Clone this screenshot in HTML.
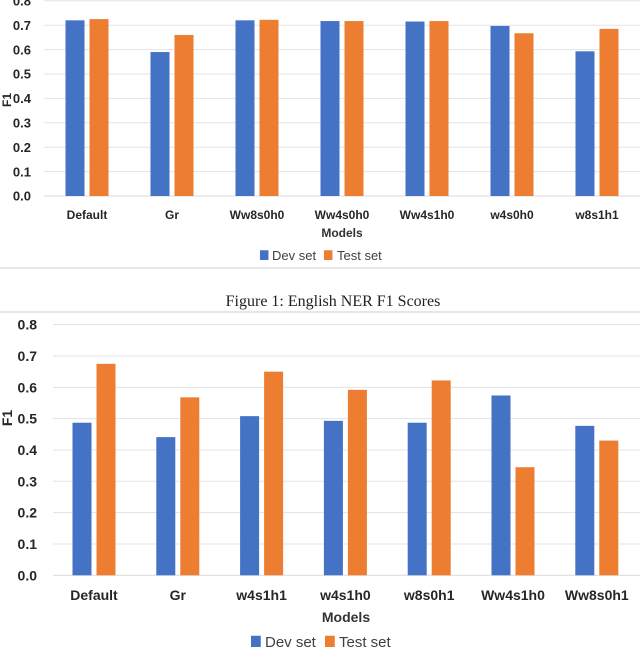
<!DOCTYPE html>
<html><head><meta charset="utf-8"><style>
body{margin:0;width:640px;height:648px;background:#fff;overflow:hidden}
svg{display:block}
text{font-family:"Liberation Sans",sans-serif}
</style></head><body>
<svg id="s" width="640" height="648">
<line x1="0" y1="268" x2="640" y2="268" stroke="#e6e6e6" stroke-width="2"/>
<text x="333" y="306" text-anchor="middle" style="font-family:'Liberation Serif',serif;font-size:16px" fill="#222">Figure 1: English NER F1 Scores</text>
<line x1="0" y1="312" x2="640" y2="312" stroke="#e6e6e6" stroke-width="2"/>
</svg>
<script>
const cats1=["Default","Gr","Ww8s0h0","Ww4s0h0","Ww4s1h0","w4s0h0","w8s1h1"];
const dev1=[0.72,0.59,0.72,0.717,0.715,0.697,0.593];
const test1=[0.725,0.66,0.722,0.717,0.717,0.667,0.685];
const cats2=["Default","Gr","w4s1h1","w4s1h0","w8s0h1","Ww4s1h0","Ww8s0h1"];
const dev2=[0.487,0.441,0.508,0.493,0.487,0.574,0.477];
const test2=[0.675,0.568,0.65,0.592,0.622,0.345,0.43];
const ticks=["0.0","0.1","0.2","0.3","0.4","0.5","0.6","0.7","0.8"];
const NS="http://www.w3.org/2000/svg";
const svg=document.getElementById('s');
function mk(tag,attrs,txt){const e=document.createElementNS(NS,tag);for(const k in attrs)e.setAttribute(k,attrs[k]);if(txt!==undefined)e.textContent=txt;svg.appendChild(e);return e;}
function chart(id,cats,dev,test,o){
  const y=v=>o.y0-v*10*o.step;
  const x=i=>o.x0+i*o.dx;
  ticks.forEach((t,i)=>{
    const v=parseFloat(t);const yy=y(v);
    if(yy<-5)return;
    if(i>0){const g=mk('line',{x1:o.gx,x2:640,y1:yy,y2:yy,stroke:'#e3e3e3','stroke-width':1});
    
    }
    const l=mk('text',{x:o.tx,y:yy+o.tfs*0.36,'text-anchor':'end','font-size':o.tfs,'font-weight':'bold',fill:'#262626'},t);
    
    
  });
  const ax=mk('line',{x1:o.gx,x2:640,y1:o.y0,y2:o.y0,stroke:'#d9d9d9','stroke-width':1});
  
  
  cats.forEach((c,i)=>{
    const b1=mk('rect',{x:x(i)-21.5,y:y(dev[i]),width:19,height:o.y0-y(dev[i]),fill:'#4472c4'});
    
    
    const b2=mk('rect',{x:x(i)+2.5,y:y(test[i]),width:19,height:o.y0-y(test[i]),fill:'#ed7d31'});
    
    
    const l=mk('text',{x:x(i),y:o.ly,'text-anchor':'middle','font-size':o.fs,'font-weight':'bold',fill:'#262626'},c);
    
    
  });
  const xt=mk('text',{x:o.mx,y:o.my,'text-anchor':'middle','font-size':o.fs,'font-weight':'bold',fill:'#333'},'Models');
  
  
  const yt=mk('text',{x:0,y:0,transform:'translate('+o.fx+','+o.fy+') rotate(-90)','text-anchor':'middle','font-size':o.fs,'font-weight':'bold',fill:'#262626'},'F1');
  
  
  const lf=o.fs+1;
  const s1=mk('rect',{x:o.lg[0],y:o.lgy-lf*0.75,width:lf*0.65,height:lf*0.75,fill:'#4472c4'});
  
  
  const t1=mk('text',{x:o.lg[1],y:o.lgy,'font-size':lf,fill:'#404040'},'Dev set');
  
  
  const s2=mk('rect',{x:o.lg[2],y:o.lgy-lf*0.75,width:lf*0.65,height:lf*0.75,fill:'#ed7d31'});
  
  
  const t2=mk('text',{x:o.lg[3],y:o.lgy,'font-size':lf,fill:'#404040'},'Test set');
  
  
}
chart('top-chart',cats1,dev1,test1,{y0:196,step:24.4,x0:87,dx:85,gx:44,tx:31,tfs:13,fs:12,ly:219,mx:342,my:237,fx:11,fy:100,lg:[260,272,324,337],lgy:260});
chart('bottom-chart',cats2,dev2,test2,{y0:575.3,step:31.33,x0:94,dx:83.8,gx:53,tx:37,tfs:14,fs:14,ly:600,mx:346,my:622,fx:12,fy:418,lg:[251,265,325,339],lgy:647});
</script>
</body></html>
